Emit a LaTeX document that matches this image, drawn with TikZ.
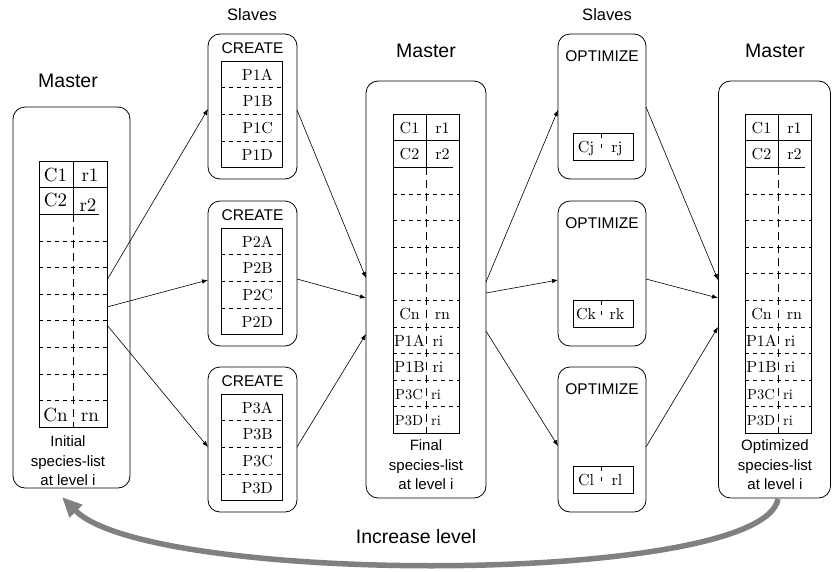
\documentclass[tikz,border=0pt]{standalone}
\usepackage{fontspec}
\newfontfamily\lab{Liberation Sans}
\newfontfamily\cm{lmroman10-regular.otf}
\usetikzlibrary{arrows.meta}
\begin{document}
\begin{tikzpicture}[x=1pt,y=-1pt,
  box/.style={draw, rounded corners=12pt, line width=0.8pt, inner sep=0pt},
  lbl/.style={font=\lab\fontsize{15.5}{19}\selectfont, inner sep=0pt},
  ttl/.style={font=\lab\fontsize{16.5}{19}\selectfont, inner sep=0pt},
  big/.style={font=\lab\fontsize{19.5}{23}\selectfont, inner sep=0pt},
  lblc/.style={font=\lab\fontsize{15}{19.5}\selectfont, inner sep=0pt, align=center},
  cell/.style={font=\cm\fontsize{16}{18}\selectfont, inner sep=0pt, anchor=base},
  lcell/.style={font=\cm\fontsize{19}{21}\selectfont, inner sep=0pt, anchor=base},
  cellr/.style={font=\cm\fontsize{16}{18}\selectfont, inner sep=0pt, anchor=base east},
  smallcell/.style={font=\cm\fontsize{14.5}{16}\selectfont, inner sep=0pt, anchor=base},
  arr/.style={-{Latex[length=6pt,width=4.5pt]}, line width=0.6pt},
  dsh/.style={dash pattern=on 4pt off 4pt, line width=0.5pt},
  vdsh/.style={dash pattern=on 8pt off 5pt, line width=0.6pt},
  tl/.style={line width=0.7pt}
]
\useasboundingbox (0,0) rectangle (832,571);

% ---------- titles
\node[big] (tm1) at (68,81) {Master};
\node[ttl] (ts1) at (252,15) {Slaves};
\node[big] (tm2) at (426,51) {Master};
\node[ttl] (ts2) at (607,15) {Slaves};
\node[big] (tm3) at (775,51) {Master};

% ---------- master boxes
\node[box, minimum width=117pt, minimum height=381pt] (m1) at (71.5,297.5) {};
\node[box, minimum width=120pt, minimum height=417pt] (m2) at (426,289.5) {};
\node[box, minimum width=112pt, minimum height=417pt] (m3) at (774.5,289.5) {};

% ---------- left table
\draw[tl] (39,161) rectangle (107,427);
\draw[tl] (39,187.6) -- (107,187.6);
\draw[tl] (39,214.2) -- (99,214.2);
\foreach \i in {3,...,9} \draw[dsh] (39,161+\i*26.6) -- (107,161+\i*26.6);
\draw[tl] (73,161) -- (73,214.2);
\draw[vdsh] (73,214.2) -- (73,427);
\node[lcell] (l1a) at (55.5,181) {C1};
\node[lcell] (l1b) at (90,181) {r1};
\node[lcell] (l2a) at (55.5,206.5) {C2};
\node[lcell] (l2b) at (88,211) {r2};
\node[lcell] (lna) at (55.5,421) {Cn};
\node[lcell] (lnb) at (90,421) {rn};
\node[lblc] (lt1) at (68,461) {Initial\\species-list\\at level i};

% ---------- middle and right tables
\foreach \x/\nm in {393/a,745/b}{
  \draw[tl] (\x,114) rectangle (\x+66,433.2);
  \draw[tl] (\x,140.6) -- (\x+66,140.6);
  \draw[tl] (\x,167.2) -- (\x+60,167.2);
  \foreach \i in {3,...,11} \draw[dsh] (\x,114+\i*26.6) -- (\x+66,114+\i*26.6);
  \draw[tl] (\x+33,114) -- (\x+33,167.2);
  \draw[vdsh] (\x+33,167.2) -- (\x+33,433.2);
  \node[cell] (\nm1a) at (\x+16.5,133) {C1};
  \node[cell] (\nm1b) at (\x+49.5,133) {r1};
  \node[cell] (\nm2a) at (\x+16.5,159.5) {C2};
  \node[cell] (\nm2b) at (\x+49.5,159.5) {r2};
  \node[cell] (\nm3a) at (\x+16.5,319.5) {Cn};
  \node[cell] (\nm3b) at (\x+49.5,319.5) {rn};
  \node[cell] (\nm4a) at (\x+16.5,346) {P1A};
  \node[cell] (\nm4b) at (\x+45,346) {ri};
  \node[cell] (\nm5a) at (\x+16.5,372.5) {P1B};
  \node[cell] (\nm5b) at (\x+45,372.5) {ri};
  \node[smallcell] (\nm6a) at (\x+16,399) {P3C};
  \node[smallcell] (\nm6b) at (\x+43,399) {ri};
  \node[smallcell] (\nm7a) at (\x+16,425.5) {P3D};
  \node[smallcell] (\nm7b) at (\x+43,425.5) {ri};
}
\node[lblc] (mt2) at (426,465) {Final\\species-list\\at level i};
\node[lblc] (mt3) at (775,465) {Optimized\\species-list\\at level i};

% ---------- CREATE boxes
\foreach \t/\k in {34/1,201/2,367/3}{
  \node[box, minimum width=89pt, minimum height=145pt] (c\k) at (252.5,\t+72.5) {};
  \node[lbl] (cl\k) at (252.5,\t+14) {CREATE};
  \draw[tl] (221,\t+27) rectangle (282,\t+133.8);
  \foreach \i in {1,2,3} \draw[dsh] (221,\t+27+\i*26.7) -- (282,\t+27+\i*26.7);
  \node[cellr] (ca\k) at (273,\t+46) {P\k A};
  \node[cellr] (cb\k) at (273,\t+72.7) {P\k B};
  \node[cellr] (cc\k) at (273,\t+99.4) {P\k C};
  \node[cellr] (cd\k) at (273,\t+126.1) {P\k D};
}

% ---------- OPTIMIZE boxes
\foreach \t/\k/\a/\b in {34/1/Cj/rj,201/2/Ck/rk,367/3/Cl/rl}{
  \node[box, minimum width=88pt, minimum height=145pt] (o\k) at (602,\t+72.5) {};
  \node[lbl] (ol\k) at (602,\t+22) {OPTIMIZE};
  \draw[tl] (573,\t+99) rectangle (633,\t+126);
  \draw[line width=0.5pt, dash pattern=on 5pt off 6pt on 4pt off 20pt] (601.5,\t+99) -- (601.5,\t+126);
  \node[cell] (oa\k) at (586,\t+118) {\a};
  \node[cell] (ob\k) at (617,\t+118) {\b};
}

% ---------- connector end points
\coordinate (p1) at (107,280);
\coordinate (p2) at (107,307);
\coordinate (p3) at (107,325);
\coordinate (q1) at (208,109);
\coordinate (q2) at (208,280);
\coordinate (q3) at (208,447);
\coordinate (r1) at (297,110);
\coordinate (r2) at (297,279);
\coordinate (r3) at (297,447);
\coordinate (s1) at (366,278);
\coordinate (s2) at (366,298);
\coordinate (s3) at (366,334);
\coordinate (u1) at (486,282);
\coordinate (u2) at (486,293);
\coordinate (u3) at (486,331);
\coordinate (v1) at (558,110);
\coordinate (v2) at (558,280);
\coordinate (v3) at (558,446);
\coordinate (w1) at (646,107);
\coordinate (w2) at (646,279);
\coordinate (w3) at (646,447);
\coordinate (z1) at (718,280);
\coordinate (z2) at (718,298);
\coordinate (z3) at (718,327);

\foreach \i in {1,2,3}{
  \draw[arr] (p\i) -- (q\i);
  \draw[arr] (r\i) -- (s\i);
  \draw[arr] (u\i) -- (v\i);
  \draw[arr] (w\i) -- (z\i);
}

% ---------- increase level arrow
\coordinate (bs) at (778,499);
\coordinate (be) at (62,497);
\draw[line width=5.5pt, draw=black!50, -{Triangle[length=20pt,width=17pt]}]
  (bs) .. controls (762,586) and (150,586) .. (be);
\node[big] (inc) at (416,537) {Increase level};
\end{tikzpicture}
\end{document}
